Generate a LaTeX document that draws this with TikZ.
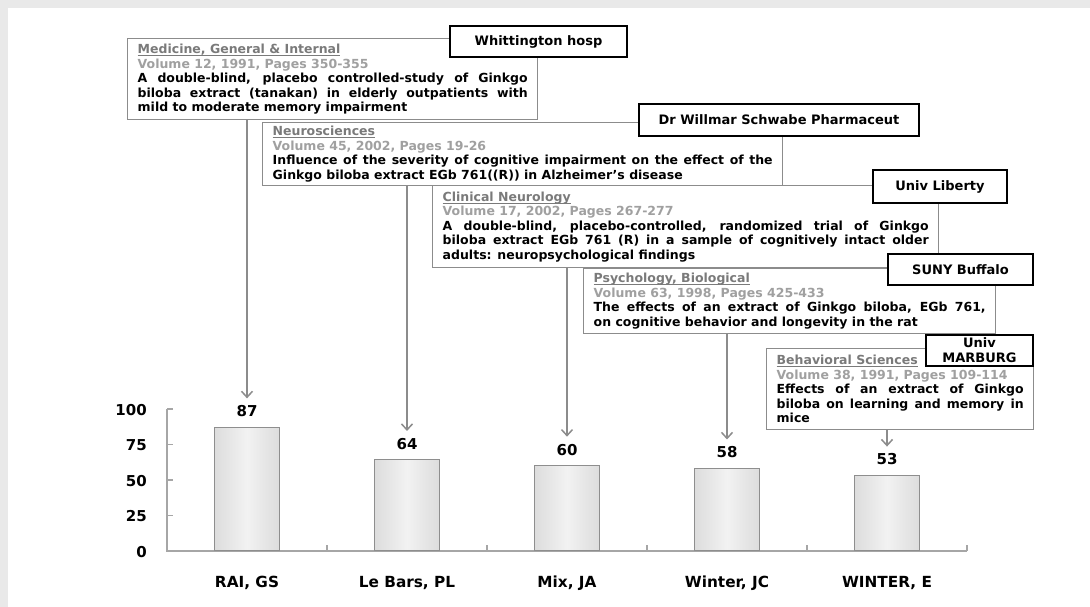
\documentclass[tikz,border=0pt]{standalone}
\usepackage{fontspec}
\setmainfont{DejaVu Sans}
\usetikzlibrary{arrows.meta}
\definecolor{bordergray}{HTML}{8C8C8C}
\definecolor{titlegray}{HTML}{7A7A7A}
\definecolor{volgray}{HTML}{A0A0A0}
\definecolor{axisgray}{HTML}{A6A6A6}
\definecolor{pagegray}{HTML}{E9E9E9}
\definecolor{barA}{HTML}{8E8E8E}
\definecolor{barB}{HTML}{BDBDBD}
\definecolor{barC}{HTML}{DADADA}
\definecolor{barD}{HTML}{F2F2F2}
\pgfdeclarehorizontalshading{barshade}{100bp}{color(0bp)=(barA); color(7bp)=(barB); color(22bp)=(barC); color(50bp)=(barD); color(78bp)=(barC); color(93bp)=(barB); color(100bp)=(barA)}
\newcommand{\jtitle}[1]{{\color{titlegray}\setbox0\hbox{#1}\rlap{\rule[-2.4pt]{\wd0}{0.8pt}}\box0}\par}
\newcommand{\jvol}[1]{{\color{volgray}#1}\par}
\tikzset{
  jbox/.style={draw=bordergray, line width=1.4pt, fill=white, anchor=north west,
    inner xsep=10pt, inner ysep=2pt, align=justify,
    font=\bfseries\fontsize{12.5}{14.5}\selectfont},
  tag/.style={draw=black, line width=1.4pt, fill=white, align=center, inner sep=0pt,
    font=\bfseries\fontsize{13}{15}\selectfont},
  barbox/.style={draw=barA, line width=0.8pt, shading=barshade, shading angle=0,
    minimum width=65pt, anchor=south, inner sep=0pt},
  val/.style={anchor=base, inner sep=0pt, font=\bfseries\fontsize{15}{17}\selectfont},
  cat/.style={anchor=base, inner sep=0pt, font=\bfseries\fontsize{15.3}{17}\selectfont},
  ticklab/.style={anchor=east, inner sep=0pt, font=\bfseries\fontsize{15}{17}\selectfont},
  axisline/.style={draw=axisgray, line width=1.2pt},
  pointer/.style={draw=bordergray, line width=1.5pt, -{Straight Barb[length=6pt,width=11pt]}, shorten >=7pt}
}
\begin{document}
\begin{tikzpicture}[x=1pt,y=-1pt]
\path[use as bounding box] (0,0) rectangle (1090,607);
\fill[white] (0,0) rectangle (1090,607);
\fill[pagegray] (0,0) rectangle (1090,8);
\fill[pagegray] (0,0) rectangle (8,607);

% journal boxes and affiliation tags
\node[jbox, text width=390pt, minimum height=81pt] (b1) at (127,38)
 {\jtitle{Medicine, General \& Internal}\jvol{Volume 12, 1991, Pages 350-355}A double-blind, placebo controlled-study of Ginkgo\linebreak biloba extract (tanakan) in elderly outpatients with\linebreak mild to moderate memory impairment};
\node[tag, minimum width=177pt, minimum height=31pt] (t1) at (538.5,41.5) {Whittington hosp};

\node[jbox, text width=500pt, minimum height=63pt] (b2) at (262,122)
 {\jtitle{Neurosciences}\jvol{Volume 45, 2002, Pages 19-26}Influence of the severity of cognitive impairment on the effect of the\linebreak Ginkgo biloba extract EGb 761((R)) in Alzheimer's disease};
\node[tag, minimum width=280pt, minimum height=32pt] (t2) at (779,120) {Dr Willmar Schwabe Pharmaceut};

\node[jbox, text width=486pt, minimum height=82pt] (b3) at (432,185)
 {\jtitle{Clinical Neurology}\jvol{Volume 17, 2002, Pages 267-277}A double-blind, placebo-controlled, randomized trial of Ginkgo\linebreak biloba extract EGb 761 (R) in a sample of cognitively intact older\linebreak adults: neuropsychological findings};
\node[tag, minimum width=134pt, minimum height=33pt] (t3) at (940,186.5) {Univ Liberty};

\node[jbox, text width=392pt, minimum height=65pt] (b4) at (583,268)
 {\jtitle{Psychology, Biological}\jvol{Volume 63, 1998, Pages 425-433}The effects of an extract of Ginkgo biloba, EGb 761,\linebreak on cognitive behavior and longevity in the rat};
\node[tag, minimum width=145pt, minimum height=31pt] (t4) at (960.5,269.5) {SUNY Buffalo};

\node[jbox, text width=247pt, minimum height=81pt] (b5) at (766,348)
 {\jtitle{Behavioral Sciences}\jvol{Volume 38, 1991, Pages 109-114}Effects of an extract of Ginkgo\linebreak biloba on learning and memory in\linebreak mice};
\node[tag, minimum width=107pt, minimum height=31pt] (t5) at (979.5,350.5) {Univ\\MARBURG};

% chart axes
\draw[axisline] (167,409) -- (167,551) -- (967,551);
\foreach \yy in {409,444.5,480,515.5,551} \draw[axisline] (167,\yy) -- (173,\yy);
\foreach \xx in {327,487,647,807,967} \draw[axisline] (\xx,551) -- (\xx,545);
\node[ticklab] (y100) at (147,410) {100};
\node[ticklab] (y75) at (147,445.5) {75};
\node[ticklab] (y50) at (147,481) {50};
\node[ticklab] (y25) at (147,516.5) {25};
\node[ticklab] (y0) at (147,552) {0};

% bars
\node[barbox, minimum height=123.5pt] (r1) at (247,551) {};
\node[barbox, minimum height=90.9pt] (r2) at (407,551) {};
\node[barbox, minimum height=85.2pt] (r3) at (567,551) {};
\node[barbox, minimum height=82.4pt] (r4) at (727,551) {};
\node[barbox, minimum height=75.3pt] (r5) at (887,551) {};

\node[val] (v1) at ([yshift=10pt]r1.north) {87};
\node[val] (v2) at ([yshift=10pt]r2.north) {64};
\node[val] (v3) at ([yshift=10pt]r3.north) {60};
\node[val] (v4) at ([yshift=10pt]r4.north) {58};
\node[val] (v5) at ([yshift=10pt]r5.north) {53};

\node[cat] (c1) at (247,587.5) {RAI, GS};
\node[cat] (c2) at (407,587.5) {Le Bars, PL};
\node[cat] (c3) at (567,587.5) {Mix, JA};
\node[cat] (c4) at (727,587.5) {Winter, JC};
\node[cat] (c5) at (887,587.5) {WINTER, E};

% pointers
\draw[pointer] (b1.south -| v1.north) -- (v1.north);
\draw[pointer] (b2.south -| v2.north) -- (v2.north);
\draw[pointer] (b3.south -| v3.north) -- (v3.north);
\draw[pointer] (b4.south -| v4.north) -- (v4.north);
\draw[pointer] (b5.south -| v5.north) -- (v5.north);
\end{tikzpicture}
\end{document}
